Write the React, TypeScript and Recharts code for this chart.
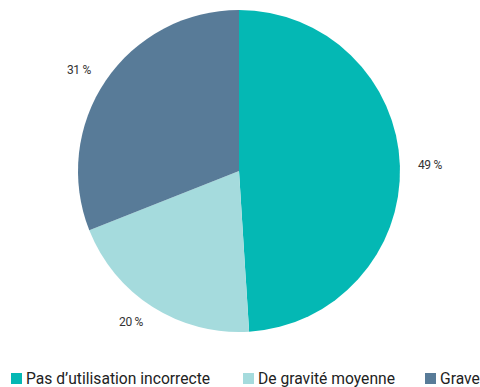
import { PieChart, Pie, Cell, Legend } from "recharts"

const categories = ["Pas d’utilisation incorrecte", "De gravité moyenne", "Grave"]
const shares = [49, 20, 31]
const colors = ["#04b8b4", "#a5dbdd", "#587b98"]

const data = categories.map((name, i) => ({ name, value: shares[i], color: colors[i] }))

const RAD = Math.PI / 180

function SliceLabel(props: any) {
  const { cx, cy, midAngle, value } = props
  const r = 179
  const x = cx + r * Math.cos(-midAngle * RAD)
  const y = cy + r * Math.sin(-midAngle * RAD)
  return (
    <text
      x={x}
      y={y}
      textAnchor={x > cx ? "start" : "end"}
      dominantBaseline="central"
      fill="#333"
      fontSize={12}
      fontFamily="Roboto, sans-serif"
      letterSpacing={-0.3}
    >
      {`${value} %`}
    </text>
  )
}

const legendX = [11, 243, 425]

function LegendRow() {
  return (
    <div style={{ position: "relative", height: 20, width: 480, fontFamily: "Roboto, sans-serif", fontSize: 17, color: "#222", lineHeight: "20px", whiteSpace: "nowrap" }}>
      {data.map((d, i) => (
        <div key={d.name} style={{ position: "absolute", left: legendX[i], top: 0, display: "flex", alignItems: "center" }}>
          <span style={{ width: 11, height: 11, background: d.color, display: "inline-block" }} />
          <span style={{ display: "inline-block", marginLeft: 4, transform: "scaleX(0.92)", transformOrigin: "left center" }}>{d.name}</span>
        </div>
      ))}
    </div>
  )
}

export default function App() {
  return (
    <div style={{ position: "fixed", left: 0, top: 0, width: 480, height: 387, background: "#fff", overflow: "hidden" }}>
      <PieChart width={480} height={387} margin={{ top: 0, right: 0, bottom: 0, left: 0 }}>
        <Pie
          data={data}
          dataKey="value"
          nameKey="name"
          cx={239}
          cy={171}
          outerRadius={161}
          startAngle={90}
          endAngle={-270}
          stroke="none"
          label={SliceLabel}
          labelLine={false}
          isAnimationActive={false}
        >
          {data.map((d, i) => (
            <Cell key={`cell-${i}`} fill={d.color} />
          ))}
        </Pie>
        <Legend
          verticalAlign="bottom"
          align="left"
          wrapperStyle={{ left: 0, bottom: -1, width: 480 }}
          content={() => <LegendRow />}
        />
      </PieChart>
    </div>
  )
}
